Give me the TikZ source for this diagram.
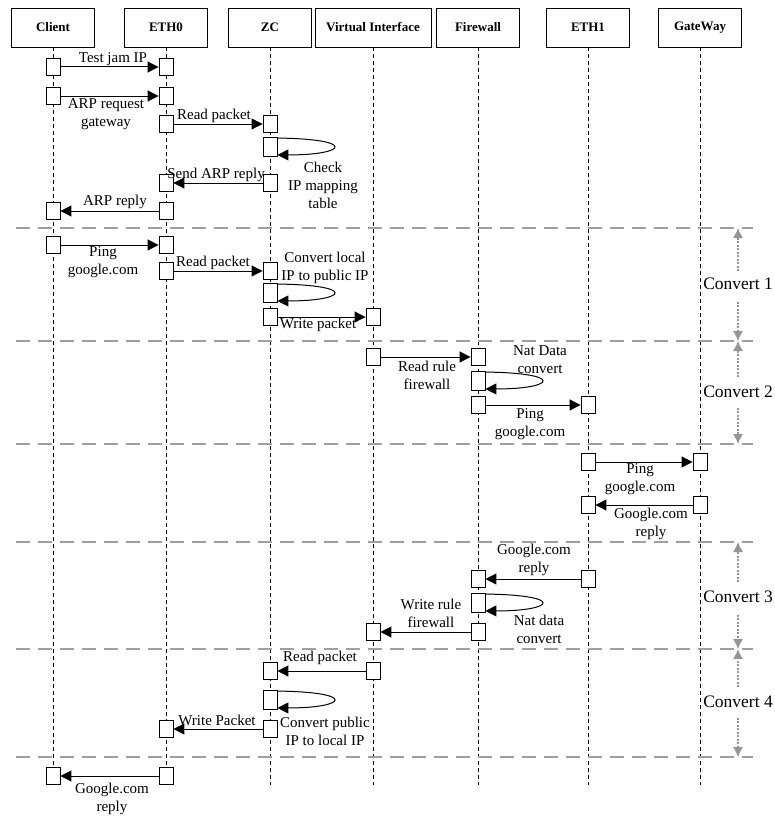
\documentclass[tikz,border=0pt]{standalone}
\usepackage{fontspec}
\setmainfont{Liberation Serif}
\usetikzlibrary{arrows.meta}
\definecolor{sepgray}{HTML}{A0A0A0}
\definecolor{phasegray}{HTML}{959595}
\tikzset{
  head/.style={draw, line width=0.9pt, minimum width=83pt, minimum height=39pt,
    inner sep=0pt, font=\fontsize{13}{15}\selectfont\bfseries},
  life/.style={line width=0.8pt, dash pattern=on 4pt off 3pt},
  sepline/.style={sepgray, line width=1.6pt, dash pattern=on 14pt off 8pt},
  act/.style={draw, fill=white, line width=0.9pt, minimum width=14pt,
    minimum height=17pt, inner sep=0pt},
  actl/.style={act, minimum height=19pt},
  msg/.style={line width=1pt, -{Triangle[length=11pt,width=11pt]}},
  lbl/.style={font=\fontsize{15}{18}\selectfont, align=center, inner sep=0pt},
  conv/.style={font=\fontsize{17.5}{20}\selectfont, inner sep=0pt,
    text height=11pt, text depth=0pt},
  phase/.style={phasegray, line width=1.2pt, dash pattern=on 2pt off 1.5pt,
    -{Latex[length=10pt,width=10pt]}},
}
\newcommand{\selfloop}[1]{%
  \draw[msg] ([yshift=-1pt]#1.north east) .. controls +(80,1) and +(70,0) ..
    ([yshift=2pt]#1.south east);}
\begin{document}
\begin{tikzpicture}[x=1pt, y=-1pt]
\useasboundingbox (0,0) rectangle (774,816);

% participants
\node[head] (hC)  at (53,27.5)  {Client};
\node[head] (hE0) at (166,27.5) {ETH0};
\node[head] (hZ)  at (270,27.5) {ZC};
\node[head, minimum width=116pt] (hV) at (373,27.5) {Virtual Interface};
\node[head] (hF)  at (478,27.5) {Firewall};
\node[head] (hE1) at (588,27.5) {ETH1};
\node[head] (hG)  at (700,27.5) {GateWay};

% lifeline ends
\coordinate (eC)  at (53,785);
\coordinate (eE0) at (166,785);
\coordinate (eZ)  at (270,785);
\coordinate (eV)  at (373,785);
\coordinate (eF)  at (478,785);
\coordinate (eE1) at (588,785);
\coordinate (eG)  at (700,785);
\foreach \p in {C,E0,Z,V,F,E1,G}
  \draw[life] (h\p.south) -- (e\p);

% phase separators
\foreach \y [count=\i] in {228,341,444,542,649,757}{
  \coordinate (sL\i) at (16,\y);
  \coordinate (sR\i) at (753,\y);
  \draw[sepline] (sL\i) -- (sR\i);
}

% phase markers
\foreach \y [count=\i] in {228,341,444,542,649,757}
  \coordinate (pm\i) at (738,\y);
\node[conv] (cv1) at (738,284) {Convert 1};
\node[conv] (cv2) at (738,392) {Convert 2};
\node[conv] (cv3) at (738,597) {Convert 3};
\node[conv] (cv4) at (738,702) {Convert 4};
\draw[phase] ([yshift=7pt]cv1.north) -- (pm1);
\draw[phase] ([yshift=-12pt]cv1.south) -- (pm2);
\draw[phase] ([yshift=9pt]cv2.north) -- (pm2);
\draw[phase] ([yshift=-10pt]cv2.south) -- (pm3);
\draw[phase] ([yshift=9pt]cv3.north) -- (pm4);
\draw[phase] ([yshift=-12pt]cv3.south) -- (pm5);
\draw[phase] ([yshift=9pt]cv4.north) -- (pm5);
\draw[phase] ([yshift=-10pt]cv4.south) -- (pm6);

% ARP exchange
\node[act] (a1) at (53,67) {};  \node[act] (b1) at (166,67) {};
\draw[msg] (a1) -- (b1);
\node[lbl, anchor=south] (t1) at (113,66) {Test jam IP};

\node[act] (a2) at (53,96) {};  \node[act] (b2) at (166,96) {};
\draw[msg] (a2) -- (b2);
\node[lbl] (t2) at (106,114) {ARP request\\gateway};

\node[act] (a3) at (166,124) {};  \node[act] (b3) at (270,124) {};
\draw[msg] (a3) -- (b3);
\node[lbl, anchor=south] (t3) at (214,123) {Read packet};

\node[actl] (a4) at (270,147) {};
\selfloop{a4}
\node[lbl] (t4) at (323,185) {Check\\IP mapping\\table};

\node[act] (a5) at (270,183) {};  \node[act] (b5) at (166,183) {};
\draw[msg] (a5) -- (b5);
\node[lbl, anchor=south] (t5) at (216,182) {Send ARP reply};

\node[act] (a6) at (166,211) {};  \node[act] (b6) at (53,211) {};
\draw[msg] (a6) -- (b6);
\node[lbl, anchor=south] (t6) at (115,209) {ARP reply};

% Convert 1
\node[act] (a7) at (53,245) {};  \node[act] (b7) at (166,245) {};
\draw[msg] (a7) -- (b7);
\node[lbl] (t7) at (103,262) {Ping\\google.com};

\node[act] (a8) at (166,271) {};  \node[act] (b8) at (270,271) {};
\draw[msg] (a8) -- (b8);
\node[lbl, anchor=south] (t8) at (213,270) {Read packet};

\node[actl] (a9) at (270,293) {};
\selfloop{a9}
\node[lbl] (t9) at (325,268) {Convert local\\IP to public IP};

\node[act] (a10) at (270,317) {};  \node[act] (b10) at (373,317) {};
\draw[msg] (a10) -- (b10);
\node[lbl, anchor=north] (t10) at (318,318) {Write packet};

% Convert 2
\node[act] (a11) at (373,357) {};  \node[act] (b11) at (478,357) {};
\draw[msg] (a11) -- (b11);
\node[lbl] (t11) at (427,375) {Read rule\\firewall};

\node[actl] (a12) at (478,381) {};
\selfloop{a12}
\node[lbl] (t12) at (540,360) {Nat Data\\convert};

\node[act] (a13) at (478,405) {};  \node[act] (b13) at (588,405) {};
\draw[msg] (a13) -- (b13);
\node[lbl] (t13) at (530,424) {Ping\\google.com};

% gateway round trip
\node[act] (a14) at (588,462) {};  \node[act] (b14) at (700,462) {};
\draw[msg] (a14) -- (b14);
\node[lbl] (t14) at (640,479) {Ping\\google.com};

\node[act] (a15) at (700,505) {};  \node[act] (b15) at (588,505) {};
\draw[msg] (a15) -- (b15);
\node[lbl] (t15) at (651,524) {Google.com\\reply};

% Convert 3
\node[act] (a16) at (588,579) {};  \node[act] (b16) at (478,579) {};
\draw[msg] (a16) -- (b16);
\node[lbl] (t16) at (534,560) {Google.com\\reply};

\node[actl] (a17) at (478,603) {};
\selfloop{a17}
\node[lbl] (t17) at (539,629) {Nat data\\convert};

\node[act] (a18) at (478,632) {};  \node[act] (b18) at (373,632) {};
\draw[msg] (a18) -- (b18);
\node[lbl] (t18) at (431,613) {Write rule\\firewall};

% Convert 4
\node[act] (a19) at (373,671) {};  \node[act] (b19) at (270,671) {};
\draw[msg] (a19) -- (b19);
\node[lbl, anchor=south] (t19) at (320,665) {Read packet};

\node[actl] (a20) at (270,700) {};
\selfloop{a20}
\node[lbl] (t20) at (325,731) {Convert public\\IP to local IP};

\node[act] (a21) at (270,729) {};  \node[act] (b21) at (166,729) {};
\draw[msg] (a21) -- (b21);
\node[lbl, anchor=south] (t21) at (217,726) {Write Packet};

% final reply
\node[act] (a22) at (166,776) {};  \node[act] (b22) at (53,776) {};
\draw[msg] (a22) -- (b22);
\node[lbl] (t22) at (112,799) {Google.com\\reply};
\end{tikzpicture}
\end{document}
